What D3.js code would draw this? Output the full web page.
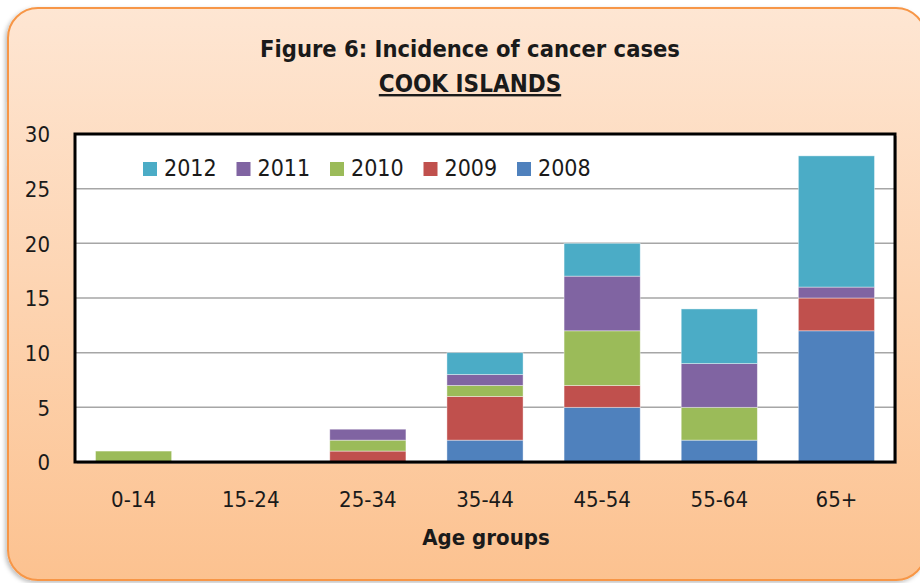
<!DOCTYPE html>
<html>
<head>
<meta charset="utf-8">
<script src="https://cdn.jsdelivr.net/npm/d3@7"></script>
<style>
  body { margin: 0; background: #ffffff; }
  text { font-family: "Liberation Sans Narrow", "DejaVu Sans Condensed", sans-serif; fill: #1a1a1a; }
</style>
</head>
<body>
<div id="chart"></div>
<script>
var svgWidth = 920;
var svgHeight = 583;

// data
var ageGroups = ["0-14", "15-24", "25-34", "35-44", "45-54", "55-64", "65+"];
var years = ["2008", "2009", "2010", "2011", "2012"];
var cases2008 = [0, 0, 0, 2, 5, 2, 12];
var cases2009 = [0, 0, 1, 4, 2, 0, 3];
var cases2010 = [1, 0, 1, 1, 5, 3, 0];
var cases2011 = [0, 0, 1, 1, 5, 4, 1];
var cases2012 = [0, 0, 0, 2, 3, 5, 12];
var yTicks = [0, 5, 10, 15, 20, 25, 30];
var colors = ["#4f81bd", "#c0504d", "#9bbb59", "#8064a2", "#4bacc6"];

var seriesValues = [cases2008, cases2009, cases2010, cases2011, cases2012];

// table for d3.stack
var table = ageGroups.map(function(g, i) {
  var row = { group: g };
  years.forEach(function(y, j) { row[y] = seriesValues[j][i]; });
  return row;
});

var margin = { top: 134, right: 25, bottom: 121, left: 75 };
var chartWidth = svgWidth - margin.left - margin.right;
var chartHeight = svgHeight - margin.top - margin.bottom;

var svg = d3.select("#chart")
  .append("svg")
  .attr("width", svgWidth)
  .attr("height", svgHeight);

var defs = svg.append("defs");
var grad = defs.append("linearGradient")
  .attr("id", "bg")
  .attr("x1", 0).attr("y1", 0).attr("x2", 0).attr("y2", 1);
grad.append("stop").attr("offset", "0%").attr("stop-color", "#fee6d3");
grad.append("stop").attr("offset", "100%").attr("stop-color", "#fcc290");

var shadow = defs.append("filter").attr("id", "shadow")
  .attr("x", "-5%").attr("y", "-5%").attr("width", "110%").attr("height", "110%");
shadow.append("feDropShadow")
  .attr("dx", -2).attr("dy", 2).attr("stdDeviation", 2)
  .attr("flood-color", "#000").attr("flood-opacity", 0.25);

// outer rounded panel
svg.append("rect")
  .attr("x", 8).attr("y", 8)
  .attr("width", 918).attr("height", 572)
  .attr("rx", 30).attr("ry", 30)
  .attr("fill", "url(#bg)")
  .attr("stroke", "#f79646")
  .attr("stroke-width", 2)
  .attr("filter", "url(#shadow)");

// titles
svg.append("text")
  .attr("x", 470).attr("y", 57)
  .attr("text-anchor", "middle")
  .style("font-weight", "bold")
  .style("font-size", "23.5px")
  .text("Figure 6: Incidence of cancer cases");

svg.append("text")
  .attr("x", 470).attr("y", 92)
  .attr("text-anchor", "middle")
  .style("font-weight", "bold")
  .style("font-size", "24px")
  .style("text-decoration", "underline")
  .text("COOK ISLANDS");

var chartGroup = svg.append("g")
  .attr("transform", `translate(${margin.left}, ${margin.top})`);

var xScale = d3.scaleBand()
  .domain(ageGroups)
  .range([0, chartWidth])
  .paddingInner(0.35)
  .paddingOuter(0.175);

var yScale = d3.scaleLinear()
  .domain([0, 30])
  .range([chartHeight, 0]);

// plot area
chartGroup.append("rect")
  .attr("x", 2).attr("y", 2)
  .attr("width", chartWidth).attr("height", chartHeight)
  .attr("fill", "#888").attr("opacity", 0.5);
chartGroup.append("rect")
  .attr("width", chartWidth).attr("height", chartHeight)
  .attr("fill", "#ffffff");

// gridlines
chartGroup.selectAll(".grid")
  .data(yTicks.filter(function(d) { return d > 0 && d < 30; }))
  .enter()
  .append("line")
  .attr("x1", 0).attr("x2", chartWidth)
  .attr("y1", d => yScale(d)).attr("y2", d => yScale(d))
  .attr("stroke", "#a6a6a6")
  .attr("stroke-width", 1.5);

var stacked = d3.stack().keys(years)(table);

chartGroup.selectAll(".series")
  .data(stacked)
  .enter()
  .append("g")
  .attr("fill", (d, i) => colors[i])
  .selectAll("rect")
  .data(d => d.filter(p => p[1] > p[0]))
  .enter()
  .append("rect")
  .attr("x", d => xScale(d.data.group))
  .attr("y", d => yScale(d[1]))
  .attr("width", xScale.bandwidth())
  .attr("height", d => yScale(d[0]) - yScale(d[1]))
  .attr("stroke", "#ffffff")
  .attr("stroke-opacity", 0.5)
  .attr("stroke-width", 0.8);

// plot border
chartGroup.append("rect")
  .attr("width", chartWidth).attr("height", chartHeight)
  .attr("fill", "none")
  .attr("stroke", "#000")
  .attr("stroke-width", 3);

// y axis labels
var leftAxis = d3.axisLeft(yScale).tickValues(yTicks).tickSize(0).tickPadding(25);
var yAxisG = chartGroup.append("g").call(leftAxis);
yAxisG.select(".domain").remove();
yAxisG.selectAll("text")
  .style("font-size", "22px")
  .attr("dy", "0.36em")
  .attr("fill", "#1a1a1a");

// x axis labels
var bottomAxis = d3.axisBottom(xScale).tickSize(0).tickPadding(29);
var xAxisG = chartGroup.append("g")
  .attr("transform", `translate(0, ${chartHeight})`)
  .call(bottomAxis);
xAxisG.select(".domain").remove();
xAxisG.selectAll("text")
  .style("font-size", "22px")
  .attr("fill", "#1a1a1a");

chartGroup.append("text")
  .attr("x", chartWidth / 2 + 1)
  .attr("y", chartHeight + 83)
  .attr("text-anchor", "middle")
  .style("font-weight", "bold")
  .style("font-size", "22px")
  .text("Age groups");

// legend, 2012 first
var legendYears = years.slice().reverse();
var legend = chartGroup.selectAll(".legend")
  .data(legendYears)
  .enter()
  .append("g")
  .attr("transform", (d, i) => `translate(${68 + i * 93.5}, 28)`);

legend.append("rect")
  .attr("width", 14).attr("height", 14)
  .attr("fill", d => colors[years.indexOf(d)]);

legend.append("text")
  .attr("x", 21).attr("y", 14)
  .style("font-size", "23px")
  .text(d => d);
</script>
</body>
</html>
